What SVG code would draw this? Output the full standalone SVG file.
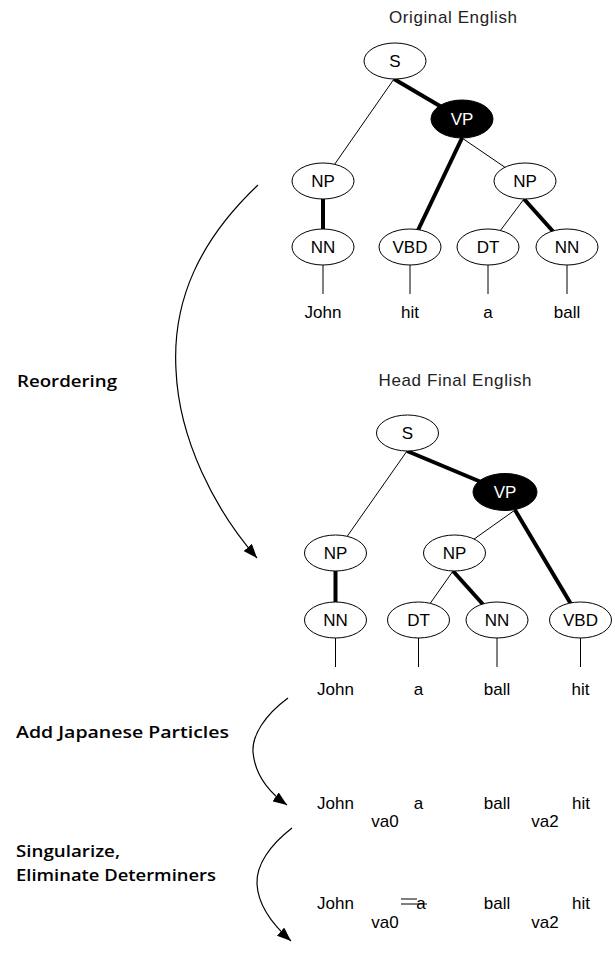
<svg xmlns="http://www.w3.org/2000/svg" width="615" height="960" viewBox="0 0 615 960">
<style>
text{font-family:"Liberation Sans",Arial,sans-serif;fill:#000}
.t{font-size:17px;text-anchor:middle}
.title{font-size:17px;text-anchor:middle;fill:#222}
.lab{font-family:"Open Sans","Noto Sans","Liberation Sans",sans-serif;font-size:16px;font-weight:600}
.node ellipse{fill:#fff;stroke:#000;stroke-width:1}
.node.head ellipse{fill:#000}
.node.head text{fill:#fff}
.thin{stroke:#000;stroke-width:1;fill:none}
.thick{stroke:#000;stroke-width:4;fill:none}
.arr{stroke:#000;stroke-width:1.2;fill:none;marker-end:url(#ah)}
</style>
<defs>
<marker id="ah" markerUnits="userSpaceOnUse" markerWidth="15" markerHeight="11" refX="14" refY="5.5" orient="auto">
<path d="M0,0 L14,5.5 L0,11 z" fill="#000"/>
</marker>
</defs>

<text class="title" x="453" y="23" textLength="128">Original English</text>
<text class="title" x="455" y="386" textLength="153">Head Final English</text>

<g id="connectors">
<!-- tree 1 -->
<line class="thin" x1="394" y1="79" x2="323" y2="181"/>
<line class="thick" x1="394" y1="79" x2="462" y2="119"/>
<line class="thick" x1="462" y1="138" x2="410" y2="247"/>
<line class="thin" x1="462" y1="138" x2="525" y2="181"/>
<line class="thick" x1="323" y1="199" x2="323" y2="247"/>
<line class="thin" x1="524" y1="199" x2="488" y2="247"/>
<line class="thick" x1="524" y1="199" x2="567" y2="247"/>
<line class="thin" x1="323" y1="265" x2="323" y2="294"/>
<line class="thin" x1="410" y1="265" x2="410" y2="294"/>
<line class="thin" x1="488" y1="265" x2="488" y2="294"/>
<line class="thin" x1="567" y1="265" x2="567" y2="294"/>
<!-- tree 2 -->
<line class="thin" x1="407" y1="451" x2="335.5" y2="553"/>
<line class="thick" x1="407" y1="451" x2="505" y2="492"/>
<line class="thin" x1="515" y1="510" x2="454.5" y2="553"/>
<line class="thick" x1="515" y1="510" x2="580.5" y2="620"/>
<line class="thick" x1="335.5" y1="571" x2="335.5" y2="620"/>
<line class="thin" x1="453" y1="571" x2="418.5" y2="620"/>
<line class="thick" x1="453" y1="571" x2="497" y2="620"/>
<line class="thin" x1="335.5" y1="638" x2="335.5" y2="667"/>
<line class="thin" x1="418.5" y1="638" x2="418.5" y2="667"/>
<line class="thin" x1="497" y1="638" x2="497" y2="667"/>
<line class="thin" x1="580.5" y1="638" x2="580.5" y2="667"/>
<!-- process arrows -->
<path class="arr" d="M258,185 C200,240 172,300 176,370 C179,440 215,510 257,558"/>
<path class="arr" d="M288,698 C265,715 252,735 253,752 C255,775 270,793 287,805"/>
<path class="arr" d="M292,828 C270,845 256,865 257,884 C258,905 273,925 291,941"/>
<!-- strike on determiner -->
<line class="thin" x1="401" y1="899" x2="417" y2="899"/>
<line class="thin" x1="401" y1="904" x2="427" y2="904"/>
</g>

<!-- tree 1 nodes -->
<g id="t1-S" class="node"><ellipse cx="395" cy="61" rx="31" ry="18"/><text class="t" x="395" y="67">S</text></g>
<g id="t1-VP" class="node head"><ellipse cx="462" cy="119" rx="31" ry="19"/><text class="t" x="462" y="125">VP</text></g>
<g id="t1-NP1" class="node"><ellipse cx="323" cy="181" rx="31" ry="18"/><text class="t" x="323" y="187">NP</text></g>
<g id="t1-NP2" class="node"><ellipse cx="525" cy="181" rx="31" ry="18"/><text class="t" x="525" y="187">NP</text></g>
<g id="t1-NN1" class="node"><ellipse cx="323" cy="247" rx="31" ry="18"/><text class="t" x="323" y="253">NN</text></g>
<g id="t1-VBD" class="node"><ellipse cx="410" cy="247" rx="31" ry="18"/><text class="t" x="410" y="253">VBD</text></g>
<g id="t1-DT" class="node"><ellipse cx="488" cy="247" rx="31" ry="18"/><text class="t" x="488" y="253">DT</text></g>
<g id="t1-NN2" class="node"><ellipse cx="567" cy="247" rx="31" ry="18"/><text class="t" x="567" y="253">NN</text></g>
<g id="t1-words">
<text class="t" x="323" y="318">John</text>
<text class="t" x="410" y="318">hit</text>
<text class="t" x="488" y="318">a</text>
<text class="t" x="567" y="318">ball</text>
</g>

<!-- tree 2 nodes -->
<g id="t2-S" class="node"><ellipse cx="407.5" cy="433" rx="31" ry="18"/><text class="t" x="407.5" y="439">S</text></g>
<g id="t2-VP" class="node head"><ellipse cx="505" cy="492" rx="32" ry="18.5"/><text class="t" x="505" y="498">VP</text></g>
<g id="t2-NP1" class="node"><ellipse cx="335.5" cy="553" rx="31" ry="18"/><text class="t" x="335.5" y="559">NP</text></g>
<g id="t2-NP2" class="node"><ellipse cx="454.5" cy="553" rx="31" ry="18"/><text class="t" x="454.5" y="559">NP</text></g>
<g id="t2-NN1" class="node"><ellipse cx="335.5" cy="620" rx="31" ry="18"/><text class="t" x="335.5" y="626">NN</text></g>
<g id="t2-DT" class="node"><ellipse cx="418.5" cy="620" rx="31" ry="18"/><text class="t" x="418.5" y="626">DT</text></g>
<g id="t2-NN2" class="node"><ellipse cx="497" cy="620" rx="31" ry="18"/><text class="t" x="497" y="626">NN</text></g>
<g id="t2-VBD" class="node"><ellipse cx="580.5" cy="620" rx="31" ry="18"/><text class="t" x="580.5" y="626">VBD</text></g>
<g id="t2-words">
<text class="t" x="335.5" y="695">John</text>
<text class="t" x="418.5" y="695">a</text>
<text class="t" x="497" y="695">ball</text>
<text class="t" x="580.5" y="695">hit</text>
</g>

<!-- particle rows -->
<g id="row-particles">
<text class="t" x="335.5" y="809">John</text>
<text class="t" x="418.5" y="809">a</text>
<text class="t" x="497" y="809">ball</text>
<text class="t" x="581" y="809">hit</text>
<text class="t" x="385" y="827">va0</text>
<text class="t" x="545" y="827">va2</text>
</g>
<g id="row-final">
<text class="t" x="335.5" y="909">John</text>
<text class="t" x="421" y="909">a</text>
<text class="t" x="497" y="909">ball</text>
<text class="t" x="581" y="909">hit</text>
<text class="t" x="385" y="928">va0</text>
<text class="t" x="545" y="928">va2</text>
</g>

<!-- step labels -->
<text class="lab" x="17" y="387" textLength="100" lengthAdjust="spacingAndGlyphs">Reordering</text>
<text class="lab" x="16" y="738" textLength="213" lengthAdjust="spacingAndGlyphs">Add Japanese Particles</text>
<text class="lab" x="16" y="857" textLength="104" lengthAdjust="spacingAndGlyphs">Singularize,</text>
<text class="lab" x="16" y="881" textLength="200" lengthAdjust="spacingAndGlyphs">Eliminate Determiners</text>
</svg>
